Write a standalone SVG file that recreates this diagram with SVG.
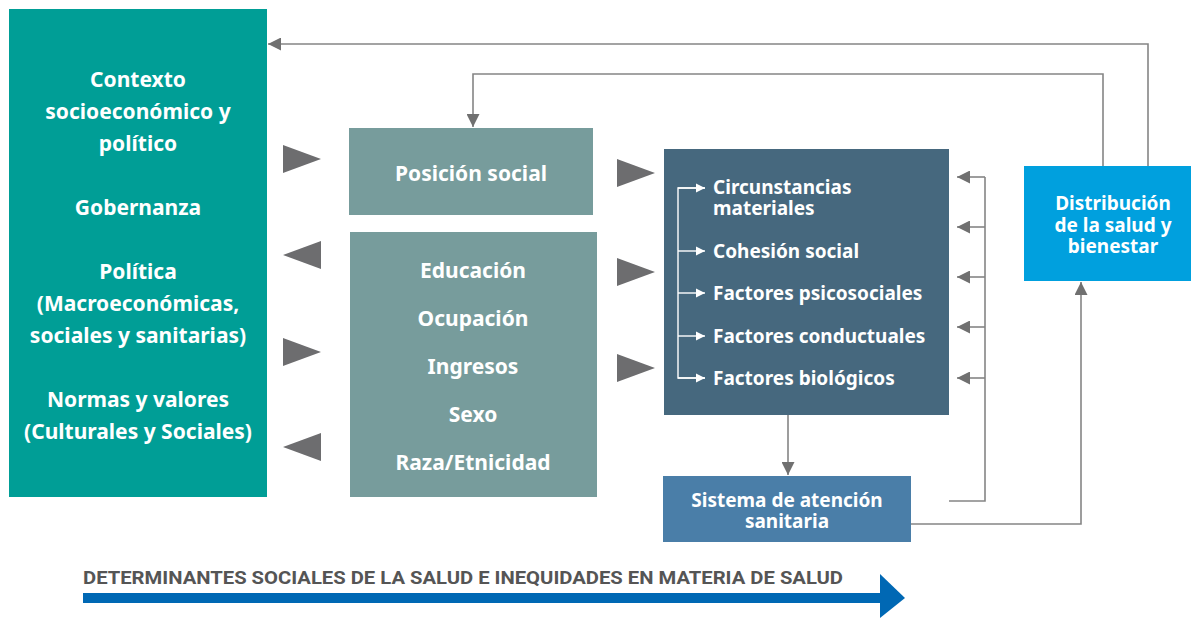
<svg xmlns="http://www.w3.org/2000/svg" width="1191" height="618" viewBox="0 0 1191 618">
<defs>
<style>
.t{font-family:"Noto Sans","DejaVu Sans",sans-serif;font-weight:bold;fill:#fff;text-anchor:middle}
.big{font-size:21px}
.mid{font-size:19px}
.l{text-anchor:start}
.ln{fill:none;stroke:#858585;stroke-width:1.6}
.wl{fill:none;stroke:#fff;stroke-width:1.4}
.tri{fill:#6d6d6f}
</style>
<marker id="ahb" viewBox="0 0 10 10" refX="10" refY="5" markerWidth="13" markerHeight="13" markerUnits="userSpaceOnUse" orient="auto">
<path d="M0,0 L10,5 L0,10 Z" fill="#707070"/>
</marker>
<marker id="wa" viewBox="0 0 10 10" refX="10" refY="5" markerWidth="9" markerHeight="12" markerUnits="userSpaceOnUse" orient="auto">
<path d="M0,0 L10,5 L0,10 Z" fill="#fff"/>
</marker>
</defs>
<rect width="1191" height="618" fill="#fff"/>

<g id="contexto">
<rect x="9" y="9" width="258" height="488" fill="#009e96"/>
<text class="t big" x="138" y="87"><tspan x="138">Contexto</tspan><tspan x="138" dy="32">socioeconómico y</tspan><tspan x="138" dy="32">político</tspan></text>
<text class="t big" x="138" y="215">Gobernanza</text>
<text class="t big" x="138" y="279"><tspan x="138">Política</tspan><tspan x="138" dy="32">(Macroeconómicas,</tspan><tspan x="138" dy="32">sociales y sanitarias)</tspan></text>
<text class="t big" x="138" y="407"><tspan x="138">Normas y valores</tspan><tspan x="138" dy="32">(Culturales y Sociales)</tspan></text>
</g>

<g id="posicion">
<rect x="349" y="128" width="244" height="87" fill="#779c9c"/>
<text class="t big" x="471" y="181">Posición social</text>
</g>

<g id="estratificadores">
<rect x="350" y="232" width="247" height="265" fill="#779c9c"/>
<text class="t big" x="473" y="278">Educación</text>
<text class="t big" x="473" y="326">Ocupación</text>
<text class="t big" x="473" y="374">Ingresos</text>
<text class="t big" x="473" y="422">Sexo</text>
<text class="t big" x="473" y="470">Raza/Etnicidad</text>
</g>

<g id="intermedios">
<rect x="664" y="149" width="285" height="266" fill="#46687e"/>
<path class="wl" d="M705,188 H678 V378 H705"/>
<path class="wl" d="M678,188 H705" marker-end="url(#wa)"/>
<path class="wl" d="M678,251 H705" marker-end="url(#wa)"/>
<path class="wl" d="M678,293 H705" marker-end="url(#wa)"/>
<path class="wl" d="M678,336 H705" marker-end="url(#wa)"/>
<path class="wl" d="M678,378 H705" marker-end="url(#wa)"/>
<text class="t mid l" x="713" y="194"><tspan x="713">Circunstancias</tspan><tspan x="713" dy="21">materiales</tspan></text>
<text class="t mid l" x="713" y="258">Cohesión social</text>
<text class="t mid l" x="713" y="300">Factores psicosociales</text>
<text class="t mid l" x="713" y="343">Factores conductuales</text>
<text class="t mid l" x="713" y="385">Factores biológicos</text>
</g>

<g id="sistema">
<rect x="663" y="476" width="248" height="66" fill="#4a7ea8"/>
<text class="t mid" x="787" y="507"><tspan x="787">Sistema de atención</tspan><tspan x="787" dy="21">sanitaria</tspan></text>
</g>

<g id="distribucion">
<rect x="1024" y="166" width="167" height="115" fill="#00a0de"/>
<text class="t mid" x="1113" y="210"><tspan x="1113">Distribución</tspan><tspan x="1113" dy="22">de la salud y</tspan><tspan x="1113" dy="21">bienestar</tspan></text>
</g>

<g id="connectors">
<path class="ln" d="M1148,166 V44 H268" marker-end="url(#ahb)"/>
<path class="ln" d="M1103,166 V74 H473 V127" marker-end="url(#ahb)"/>
<path class="ln" d="M788,415 V475" marker-end="url(#ahb)"/>
<path class="ln" d="M949,501 H985 V177"/>
<path class="ln" d="M985,177 H957" marker-end="url(#ahb)"/>
<path class="ln" d="M985,227 H957" marker-end="url(#ahb)"/>
<path class="ln" d="M985,277 H957" marker-end="url(#ahb)"/>
<path class="ln" d="M985,327 H957" marker-end="url(#ahb)"/>
<path class="ln" d="M985,378 H957" marker-end="url(#ahb)"/>
<path class="ln" d="M911,524 H1081 V282" marker-end="url(#ahb)"/>
<polygon class="tri" points="283,145 321,159 283,173"/>
<polygon class="tri" points="321,241 283,255 321,269"/>
<polygon class="tri" points="283,338 321,352 283,366"/>
<polygon class="tri" points="321,433 283,447 321,461"/>
<polygon class="tri" points="617,159 655,173 617,187"/>
<polygon class="tri" points="617,258 655,272 617,286"/>
<polygon class="tri" points="617,354 655,368 617,382"/>
</g>

<g id="eje">
<text x="83" y="584" textLength="760" lengthAdjust="spacingAndGlyphs" font-family="Roboto,'Liberation Sans',sans-serif" font-weight="bold" font-size="18" fill="#555">DETERMINANTES SOCIALES DE LA SALUD E INEQUIDADES EN MATERIA DE SALUD</text>
<rect x="83" y="593" width="799" height="10" fill="#0068b4"/>
<polygon points="880,574 905,598 880,618" fill="#0068b4"/>
</g>
</svg>
